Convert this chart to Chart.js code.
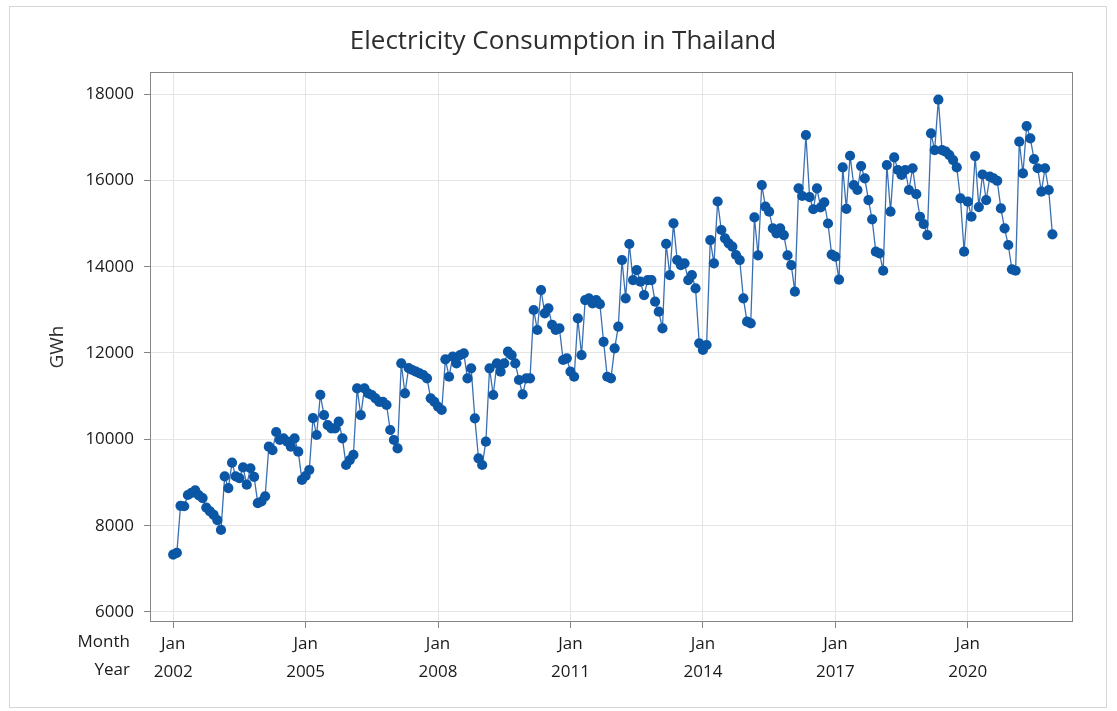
<!DOCTYPE html>
<html>
<head>
<meta charset="utf-8">
<title>Electricity Consumption in Thailand</title>
<script src="https://cdn.jsdelivr.net/npm/chart.js@4.4.1/dist/chart.umd.min.js"></script>
<style>
  html, body { margin: 0; padding: 0; background: #ffffff; }
  #wrap { width: 1117px; height: 711px; position: relative; }
  canvas { display: block; }
</style>
</head>
<body>
<div id="wrap"><canvas id="chart" width="1117" height="711"></canvas></div>
<script>
// Monthly electricity consumption in Thailand (GWh), Jan 2002 - Dec 2021
const firstYear = 2002;
const monthNames = ['Jan', 'Feb', 'Mar', 'Apr', 'May', 'Jun', 'Jul', 'Aug', 'Sep', 'Oct', 'Nov', 'Dec'];
const consumptionGWh = [
  /* 2002 */ 7330, 7370, 8460, 8450, 8710, 8760, 8820, 8700, 8640, 8420, 8330, 8250,
  /* 2003 */ 8130, 7900, 9140, 8870, 9460, 9140, 9100, 9350, 8950, 9330, 9130, 8520,
  /* 2004 */ 8560, 8680, 9830, 9750, 10170, 9985, 10020, 9945, 9830, 10020, 9715, 9060,
  /* 2005 */ 9150, 9290, 10490, 10100, 11030, 10560, 10330, 10255, 10255, 10410, 10024, 9405,
  /* 2006 */ 9520, 9640, 11180, 10560, 11180, 11065, 11027, 10950, 10870, 10870, 10795, 10216,
  /* 2007 */ 9985, 9790, 11760, 11065, 11650, 11606, 11567, 11530, 11490, 11413, 10950, 10870,
  /* 2008 */ 10755, 10680, 11853, 11450, 11915, 11760, 11950, 11993, 11413, 11645, 10487, 9560,
  /* 2009 */ 9405, 9945, 11645, 11027, 11760, 11567, 11760, 12030, 11950, 11760, 11375, 11040,
  /* 2010 */ 11413, 11413, 12996, 12533, 13459, 12920, 13035, 12650, 12533, 12570, 11838, 11877,
  /* 2011 */ 11567, 11450, 12800, 11950, 13227, 13266, 13150, 13227, 13130, 12260, 11450, 11413,
  /* 2012 */ 12108, 12610, 14154, 13266, 14525, 13690, 13922, 13652, 13343, 13690, 13690, 13188,
  /* 2013 */ 12957, 12570, 14530, 13806, 15004, 14154, 14038, 14077, 13690, 13806, 13498, 12223,
  /* 2014 */ 12070, 12185, 14617, 14077, 15510, 14850, 14657, 14540, 14463, 14270, 14154, 13266,
  /* 2015 */ 12725, 12687, 15140, 14260, 15890, 15389, 15273, 14888, 14772, 14888, 14733, 14260,
  /* 2016 */ 14038, 13420, 15814, 15637, 17050, 15610, 15330, 15814, 15373, 15490, 15000, 14280,
  /* 2017 */ 14231, 13698, 16300, 15340, 16570, 15890, 15776, 16330, 16045, 15544, 15097, 14347,
  /* 2018 */ 14308, 13906, 16355, 15273, 16532, 16240, 16124, 16240, 15776, 16280, 15680, 15157,
  /* 2019 */ 14988, 14733, 17089, 16702, 17870, 16702, 16663, 16586, 16470, 16300, 15580, 14347,
  /* 2020 */ 15505, 15157, 16563, 15380, 16135, 15544, 16084, 16045, 15990, 15350, 14888, 14502,
  /* 2021 */ 13938, 13906, 16895, 16160, 17258, 16972, 16490, 16280, 15737, 16280, 15776, 14750
];

// Axis ticks
const yTickValues = [6000, 8000, 10000, 12000, 14000, 16000, 18000];
const xTickYears = [2002, 2005, 2008, 2011, 2014, 2017, 2020];
const xTickMonth = monthNames[0];
const xRowLabels = ['Month', 'Year'];
const chartTitle = 'Electricity Consumption in Thailand';
const yAxisTitle = 'GWh';

const FONT = '"Open Sans", "Noto Sans", "DejaVu Sans", sans-serif';

const points = consumptionGWh.map((v, i) => ({ x: i, y: v }));

// Title, outer border, plot frame and the Month/Year row captions
const decorations = {
  id: 'decorations',
  beforeDraw(chart) {
    const ctx = chart.ctx;
    ctx.save();
    ctx.fillStyle = '#ffffff';
    ctx.fillRect(0, 0, chart.width, chart.height);
    ctx.strokeStyle = '#d6d6d6';
    ctx.lineWidth = 1;
    ctx.strokeRect(9.5, 6.5, 1097, 701);
    ctx.restore();
  },
  afterDraw(chart) {
    const ctx = chart.ctx;
    const a = chart.chartArea;
    ctx.save();
    ctx.strokeStyle = '#858585';
    ctx.lineWidth = 1;
    ctx.strokeRect(Math.round(a.left) + 0.5, Math.round(a.top) + 0.5,
                   Math.round(a.right - a.left) - 1, Math.round(a.bottom - a.top) - 1);

    ctx.fillStyle = '#2e2e2e';
    ctx.font = '26px ' + FONT;
    ctx.textAlign = 'center';
    ctx.textBaseline = 'middle';
    ctx.fillText(chartTitle, 563, 42);

    ctx.fillStyle = '#1a1a1a';
    ctx.font = '17px ' + FONT;
    ctx.textAlign = 'right';
    ctx.fillText(xRowLabels[0], 130, a.bottom + 20);
    ctx.fillText(xRowLabels[1], 130, a.bottom + 48);
    ctx.restore();
  }
};

new Chart(document.getElementById('chart'), {
  type: 'line',
  data: {
    datasets: [{
      label: yAxisTitle,
      data: points,
      borderColor: '#3a70b3',
      borderWidth: 1.3,
      backgroundColor: '#0b57a5',
      pointBackgroundColor: '#0b57a5',
      pointBorderColor: '#0b57a5',
      pointBorderWidth: 0,
      pointRadius: 5.1,
      tension: 0,
      fill: false
    }]
  },
  options: {
    responsive: false,
    animation: false,
    devicePixelRatio: 1,
    layout: { padding: { left: 0, right: 44, top: 72, bottom: 0 } },
    plugins: {
      legend: { display: false },
      tooltip: { enabled: false },
      title: { display: false }
    },
    scales: {
      x: {
        type: 'linear',
        min: -6.3,
        max: 244.6,
        afterBuildTicks: s => { s.ticks = xTickYears.map(y => ({ value: (y - firstYear) * 12 })); },
        afterFit: s => { s.height = 89; },
        border: { display: false },
        grid: { color: '#e4e4e4', lineWidth: 1, drawTicks: true, tickLength: 6, tickColor: '#858585' },
        ticks: {
          autoSkip: false,
          maxRotation: 0,
          padding: 2,
          color: '#1a1a1a',
          font: { family: FONT, size: 17, lineHeight: 1.65 },
          callback: v => [xTickMonth, String(firstYear + Math.round(v / 12))]
        }
      },
      y: {
        type: 'linear',
        min: 5768,
        max: 18510,
        afterBuildTicks: s => { s.ticks = yTickValues.map(v => ({ value: v })); },
        afterFit: s => { s.width = 150; },
        border: { display: false },
        grid: { color: '#e4e4e4', lineWidth: 1, drawTicks: true, tickLength: 6, tickColor: '#858585' },
        title: {
          display: true,
          text: yAxisTitle,
          color: '#2e2e2e',
          font: { family: FONT, size: 19 },
          padding: { top: 46, bottom: 0 }
        },
        ticks: {
          padding: 10,
          color: '#1a1a1a',
          font: { family: FONT, size: 17 },
          callback: v => String(v)
        }
      }
    }
  },
  plugins: [decorations]
});
</script>
</body>
</html>
